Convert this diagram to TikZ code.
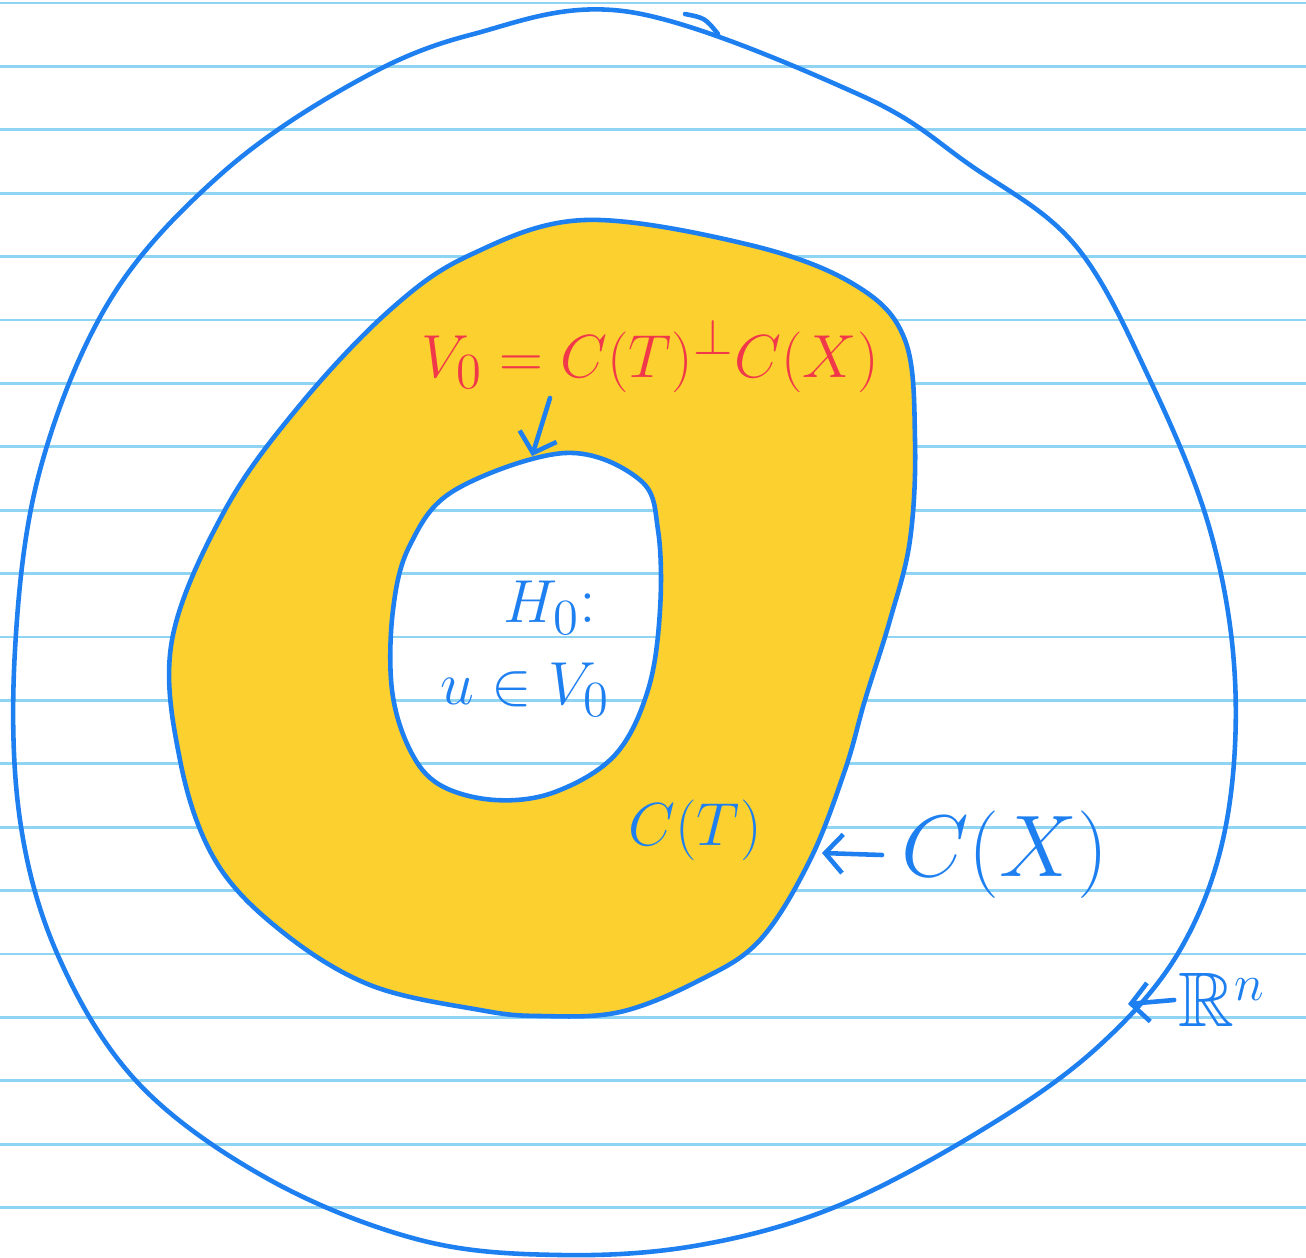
\documentclass[tikz,border=0pt]{standalone}
\usepackage{amssymb}
\usetikzlibrary{arrows.meta}
\definecolor{penblue}{HTML}{1E80F0}
\definecolor{penred}{HTML}{F0384A}
\definecolor{ruleblue}{HTML}{90D4F4}
\definecolor{marker}{HTML}{FBD02F}
\tikzset{
  pen/.style={draw=penblue, line width=1.3pt, line cap=round, line join=round},
  note/.style={text=penblue, inner sep=1pt}
}
\begin{document}
\begin{tikzpicture}[x=0.01cm, y=-0.01cm, >={Straight Barb[length=5pt,width=11pt]}]
  \useasboundingbox (0,0) rectangle (1306,1258);
  \fill[white] (0,0) rectangle (1306,1258);
  % ruled paper
  \foreach \k in {0,...,19}
    \draw[ruleblue, line width=0.8pt] (0,{3+63.4*\k}) -- (1306,{3+63.4*\k});
  % R^n
  \draw[pen] plot[smooth cycle, tension=0.6] coordinates {
    (630,12) (860,95) (970,165) (1075,245) (1150,380) (1210,530)
    (1235,680) (1225,830) (1180,950) (1100,1045) (990,1125) (840,1205)
    (700,1245) (560,1255) (420,1240) (270,1180) (140,1085) (60,960)
    (20,820) (15,650) (40,470) (110,300) (220,175) (350,85) (470,35)};
  \draw[pen] (685,14) .. controls (705,18) .. (718,34);
  % C(X) with the hole
  \filldraw[pen, fill=marker, even odd rule]
    plot[smooth cycle, tension=0.6] coordinates {
      (585,220) (750,245) (855,285) (905,340) (915,440) (910,540)
      (890,620) (865,700) (845,770) (810,860) (760,940) (700,980) (620,1012)
      (540,1016) (480,1010) (370,985) (280,930) (215,860) (180,760)
      (172,640) (225,510) (300,405) (390,310) (470,255)}
    plot[smooth cycle, tension=0.6] coordinates {
      (565,453) (640,480) (658,530) (660,610) (648,690) (615,755)
      (555,792) (495,800) (440,785) (410,750) (392,690) (393,610) (410,545)
      (455,490)};
  \coordinate (holetop) at (532,456);
  \coordinate (vtail) at (550,398);
  \coordinate (cxtip) at (822,853);
  \coordinate (rntip) at (1128,1004);
  % labels
  \node[text=penred, inner sep=1pt, font=\fontsize{19}{23}\selectfont] (vnought) at (650,356) {$V_0 = C(T)^{\perp} C(X)$};
  \node[note, font=\fontsize{19}{23}\selectfont] (hyp) at (550,608) {$H_0$:};
  \node[note, font=\fontsize{19}{23}\selectfont] (memb) at (525,690) {$u \in V_0$};
  \node[note, font=\fontsize{19}{23}\selectfont] (ct) at (695,830) {$C(T)$};
  \node[note, font=\fontsize{26}{30}\selectfont] (cx) at (1005,855) {$C(X)$};
  \node[note, font=\fontsize{22}{26}\selectfont] (rn) at (1222,1000) {$\mathbb{R}^n$};
  % arrows
  \draw[pen, ->] (vtail) -- (holetop);
  \draw[pen, ->] ([xshift=-0.15cm]cx.west) -- (cxtip);
  \draw[pen, ->] (rn.west) -- (rntip);
\end{tikzpicture}
\end{document}
